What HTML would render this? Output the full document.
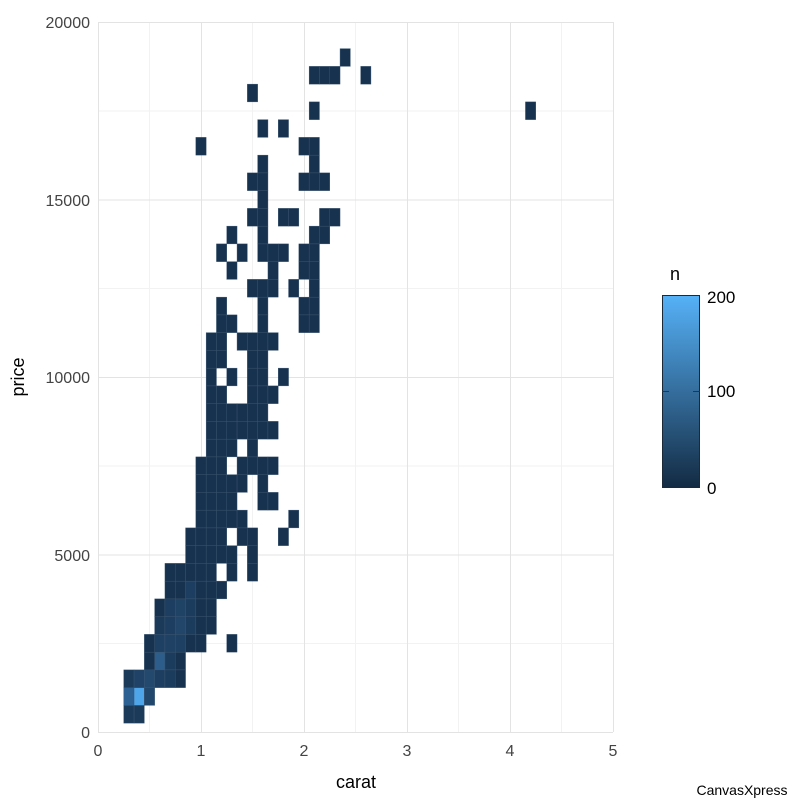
<!DOCTYPE html>
<html><head><meta charset="utf-8"><style>
body{margin:0;background:#fff;}
svg{display:block;font-family:"Liberation Sans",Arial,sans-serif;}
</style></head><body>
<svg id="s" width="800" height="800" xmlns="http://www.w3.org/2000/svg">
<defs><linearGradient id="g" x1="0" y1="1" x2="0" y2="0"><stop offset="0" stop-color="#132B43"/><stop offset="1" stop-color="#56B1F7"/></linearGradient></defs>
<g stroke="#f2f2f2" stroke-width="1">
<line x1="149.5" y1="22" x2="149.5" y2="732"/><line x1="252.5" y1="22" x2="252.5" y2="732"/><line x1="355.5" y1="22" x2="355.5" y2="732"/><line x1="458.5" y1="22" x2="458.5" y2="732"/><line x1="561.5" y1="22" x2="561.5" y2="732"/>
<line x1="98" y1="643.5" x2="613" y2="643.5"/><line x1="98" y1="466" x2="613" y2="466"/><line x1="98" y1="288.5" x2="613" y2="288.5"/><line x1="98" y1="111" x2="613" y2="111"/>
</g>
<g stroke="#e3e3e3" stroke-width="1">
<line x1="98.5" y1="22" x2="98.5" y2="732"/><line x1="201.5" y1="22" x2="201.5" y2="732"/><line x1="304.5" y1="22" x2="304.5" y2="732"/><line x1="407.5" y1="22" x2="407.5" y2="732"/><line x1="510.5" y1="22" x2="510.5" y2="732"/><line x1="613.5" y1="22" x2="613.5" y2="732"/>
<line x1="98" y1="732.5" x2="613" y2="732.5"/><line x1="98" y1="555" x2="613" y2="555"/><line x1="98" y1="377.5" x2="613" y2="377.5"/><line x1="98" y1="200" x2="613" y2="200"/><line x1="98" y1="22.5" x2="613" y2="22.5"/>
</g>
<g id="cells"></g>
<g font-size="16" fill="#444" text-anchor="end">
<text x="90" y="738">0</text><text x="90" y="561">5000</text><text x="90" y="383">10000</text><text x="90" y="206">15000</text><text x="90" y="28">20000</text>
</g>
<g font-size="16" fill="#444" text-anchor="middle">
<text x="98" y="756">0</text><text x="201" y="756">1</text><text x="304" y="756">2</text><text x="407" y="756">3</text><text x="510" y="756">4</text><text x="613" y="756">5</text>
</g>
<text x="356" y="788" font-size="18" text-anchor="middle" fill="#000">carat</text>
<text transform="translate(24,377) rotate(-90)" font-size="18" text-anchor="middle" fill="#000">price</text>
<text x="670" y="280" font-size="18" fill="#000">n</text>
<rect x="662.5" y="295.5" width="37" height="192" fill="url(#g)" stroke="#1a2a3a" stroke-width="1"/>
<line x1="662" y1="391.5" x2="669" y2="391.5" stroke="#1a3a5a"/><line x1="693" y1="391.5" x2="700" y2="391.5" stroke="#1a3a5a"/>
<g font-size="17" fill="#000"><text x="707" y="303">200</text><text x="707" y="397">100</text><text x="707" y="494">0</text></g>
<text x="742" y="795" font-size="14" text-anchor="middle" fill="#000">CanvasXpress</text>
</svg>
<script>
var rows={38:[24],37:[21,22,23,26],36:[15],35:[21,42],34:[16,18],33:[10,20,21],32:[16,21],31:[15,16,20,21,22],30:[16],29:[15,16,18,19,22,23],
28:[13,16,21,22],27:[12,14,16,17,18,20,21],26:[13,17,20,21],25:[15,16,17,19,21],24:[12,16,20,21],23:[12,13,16,20,21],22:[11,12,14,15,16,17],
21:[11,12,15,16],20:[11,13,15,16,18],19:[11,12,15,16,17],18:[11,12,13,14,15,16],17:[11,12,13,14,15,16,17],16:[11,12,13,15],15:[10,11,12,14,15,16,17],
14:[10,11,12,13,14,16],13:[10,11,12,13,16,17],12:[10,11,12,13,14,19],11:[9,10,11,12,14,15,18],10:[9,10,11,12,13,15],9:[7,8,9,10,11,13,15],
8:[7,8,9,10,11,12],7:[6,7,8,9,10,11],6:[6,7,8,9,10,11],5:[5,6,7,8,9,10,13],4:[5,6,7,8],3:[3,4,5,6,7,8],2:[3,4,5],1:[3,4]};
var col={"4,2":"#4ea5ea","3,2":"#2d6194","5,2":"#22476d","6,4":"#2d5d8a","5,3":"#23496f","4,3":"#1f4266","3,3":"#1b3a5a","6,3":"#1d3e60","7,3":"#1c3c5d","6,5":"#1e4062","7,5":"#1f4264","8,5":"#1e4062","8,6":"#214669","8,7":"#1f4365","7,6":"#1d3e60","7,7":"#1d3e60","7,4":"#1c3c5d","9,8":"#1d3e60","3,1":"#1b3a5a","4,1":"#1b3a5a","6,6":"#1b3a5a","9,6":"#1c3c5d","9,7":"#1c3c5d"};
var s="";
for(var r in rows){rows[r].forEach(function(c){var x=98+10.3*(c-0.5),y=732-17.75*(+r+0.5);
s+='<rect x="'+x.toFixed(2)+'" y="'+y.toFixed(2)+'" width="10.3" height="17.75" fill="'+(col[c+","+r]||"#17324f")+'" stroke="#3a5570" stroke-width="0.4"/>';});}
document.getElementById("cells").innerHTML=s;
</script>
</body></html>
